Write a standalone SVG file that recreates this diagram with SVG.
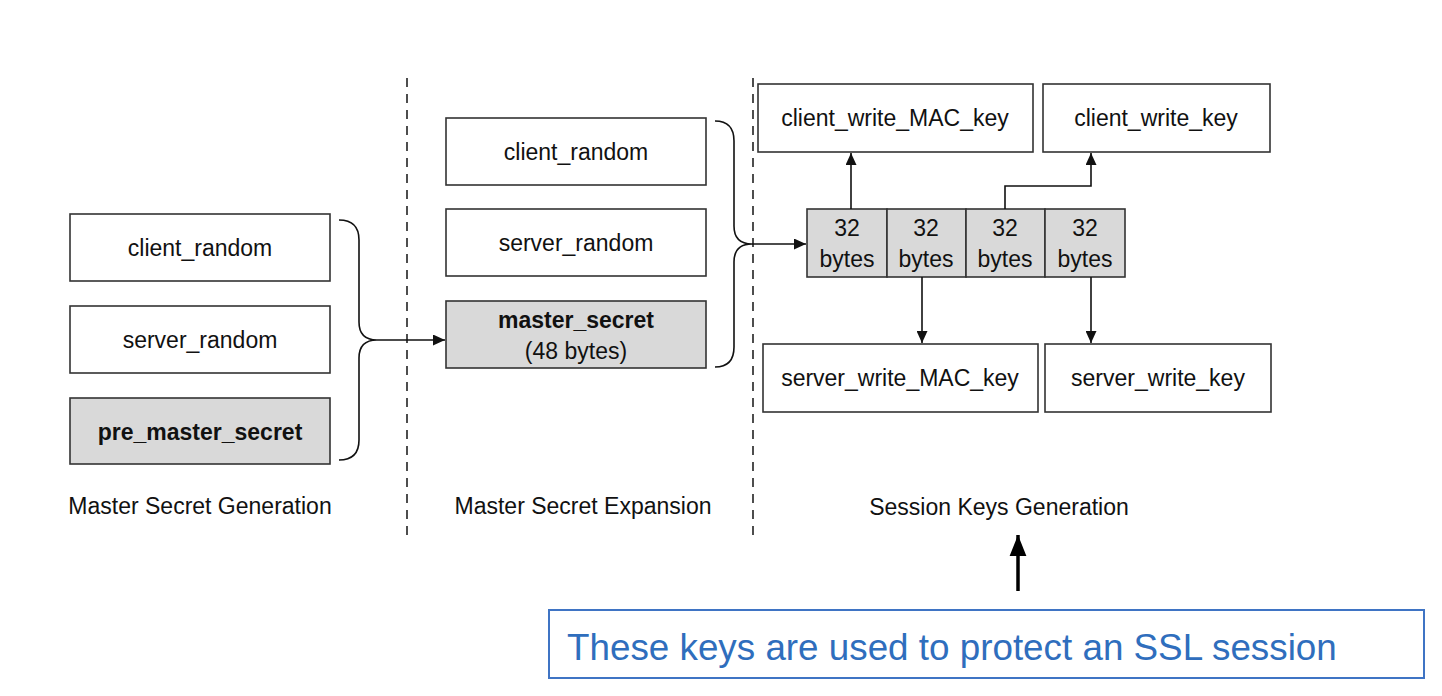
<svg xmlns="http://www.w3.org/2000/svg" width="1442" height="696" viewBox="0 0 1442 696">
<style>
.box{fill:#fff;stroke:#333;stroke-width:1.6}
.grey{fill:#d9d9d9;stroke:#333;stroke-width:1.6}
text{font-family:"Liberation Sans",Arial,sans-serif;font-size:23px;fill:#111;text-anchor:middle}
.b{font-weight:bold}
.conn{fill:none;stroke:#111;stroke-width:1.6}
.dash{fill:none;stroke:#222;stroke-width:1.6;stroke-dasharray:9,7}
.note{font-size:36.8px;fill:#2f6ebd;text-anchor:start}
</style>
<defs>
<marker id="ah" viewBox="0 0 12 11" refX="12" refY="5.5" markerWidth="12" markerHeight="11" markerUnits="userSpaceOnUse" orient="auto">
<path d="M0,0 L12,5.5 L0,11 z" fill="#111"/>
</marker>
<marker id="ahb" viewBox="0 0 10 10" refX="10" refY="5" markerWidth="6" markerHeight="6" orient="auto">
<path d="M0,1 L10,5 L0,9 z" fill="#000"/>
</marker>
</defs>
<rect width="1442" height="696" fill="#fff"/>
<g id="dividers">
<line class="dash" x1="407" y1="78" x2="407" y2="535"/>
<line class="dash" x1="753" y1="78" x2="753" y2="535"/>
</g>
<g id="gen_client_random"><rect class="box" x="70" y="214" width="260" height="67"/><text x="200" y="256">client_random</text></g>
<g id="gen_server_random"><rect class="box" x="70" y="306" width="260" height="67"/><text x="200" y="348">server_random</text></g>
<g id="pre_master_secret"><rect class="grey" x="70" y="398" width="260" height="66"/><text class="b" x="200" y="440">pre_master_secret</text></g>
<g id="exp_client_random"><rect class="box" x="446" y="118" width="260" height="67"/><text x="576" y="160">client_random</text></g>
<g id="exp_server_random"><rect class="box" x="446" y="209" width="260" height="67"/><text x="576" y="251">server_random</text></g>
<g id="master_secret"><rect class="grey" x="446" y="301" width="260" height="67"/><text class="b" x="576" y="328">master_secret</text><text x="576" y="359">(48 bytes)</text></g>
<g id="key_block">
<rect class="grey" x="807" y="209" width="80" height="68"/>
<rect class="grey" x="887" y="209" width="79" height="68"/>
<rect class="grey" x="966" y="209" width="79" height="68"/>
<rect class="grey" x="1045" y="209" width="80" height="68"/>
<text x="847" y="236">32</text><text x="847" y="267">bytes</text>
<text x="926" y="236">32</text><text x="926" y="267">bytes</text>
<text x="1005" y="236">32</text><text x="1005" y="267">bytes</text>
<text x="1085" y="236">32</text><text x="1085" y="267">bytes</text>
</g>
<g id="client_write_MAC_key"><rect class="box" x="758" y="84" width="275" height="68"/><text x="895" y="126">client_write_MAC_key</text></g>
<g id="client_write_key"><rect class="box" x="1043" y="84" width="227" height="68"/><text x="1156" y="126">client_write_key</text></g>
<g id="server_write_MAC_key"><rect class="box" x="763" y="344" width="275" height="68"/><text x="900" y="386">server_write_MAC_key</text></g>
<g id="server_write_key"><rect class="box" x="1045" y="344" width="226" height="68"/><text x="1158" y="386">server_write_key</text></g>
<g id="connectors">
<path class="conn" d="M339,220 Q359,220 359,240 L359,322 Q359,340 377,340 Q359,340 359,358 L359,440 Q359,460 339,460"/>
<line class="conn" x1="377" y1="340" x2="445" y2="340" marker-end="url(#ah)"/>
<path class="conn" d="M715,121 Q734,121 734,141 L734,226 Q734,244 752,244 Q734,244 734,262 L734,347 Q734,367 715,367"/>
<line class="conn" x1="752" y1="244" x2="806" y2="244" marker-end="url(#ah)"/>
<line class="conn" x1="851" y1="209" x2="851" y2="153" marker-end="url(#ah)"/>
<path class="conn" d="M1005,209 L1005,186 L1091,186 L1091,153" marker-end="url(#ah)"/>
<line class="conn" x1="922" y1="277" x2="922" y2="343" marker-end="url(#ah)"/>
<line class="conn" x1="1091" y1="277" x2="1091" y2="343" marker-end="url(#ah)"/>
<line x1="1018" y1="591" x2="1018" y2="535" stroke="#000" stroke-width="3.5" marker-end="url(#ahb)"/>
</g>
<g id="labels">
<text x="200" y="514">Master Secret Generation</text>
<text x="583" y="514">Master Secret Expansion</text>
<text x="999" y="515">Session Keys Generation</text>
</g>
<g id="note">
<rect x="549" y="610" width="875" height="68" fill="#fff" stroke="#3f74c4" stroke-width="2"/>
<text class="note" x="567" y="660">These keys are used to protect an SSL session</text>
</g>
</svg>
